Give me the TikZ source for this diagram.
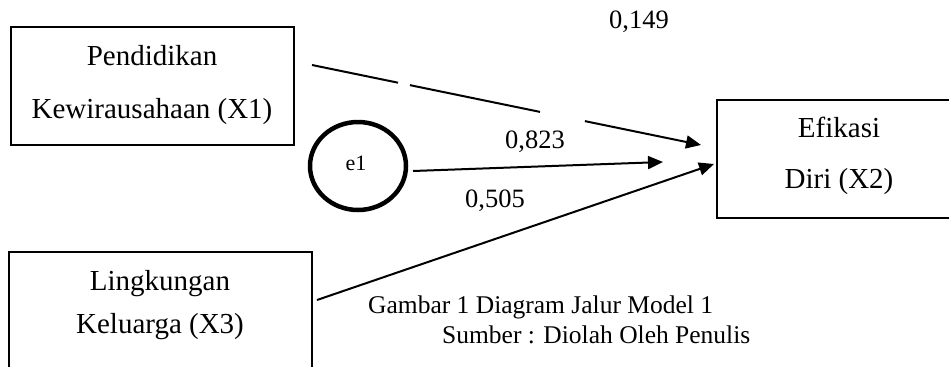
\documentclass[tikz,border=0pt]{standalone}
\usepackage{fontspec}
\setmainfont{Liberation Serif}
\usetikzlibrary{arrows.meta,shapes.geometric}
\begin{document}
\begin{tikzpicture}[x=1pt,y=-1pt,
  boxstyle/.style={draw,line width=1.2pt,inner sep=0pt,outer sep=0pt},
  boxtext/.style={anchor=base,inner sep=0pt,font=\fontsize{29}{33}\selectfont},
  coef/.style={anchor=base,inner sep=0pt,font=\fontsize{26.5}{30}\selectfont},
  captext/.style={anchor=base west,inner sep=0pt,font=\fontsize{25.5}{29}\selectfont},
  patharrow/.style={line width=2pt,-{Triangle[length=15pt,width=13pt]}}]
\useasboundingbox (0,0) rectangle (949,367);
% boxes
\node[boxstyle,minimum width=283pt,minimum height=118pt] (x1) at (152.5,86) {};
\node[inner sep=0pt,outer sep=0pt,minimum width=303pt,minimum height=115pt] (x3) at (160.5,309.5) {};
\draw[line width=1.2pt] (x3.south west) -- (x3.north west) -- (x3.north east) -- (x3.south east);
\node[inner sep=0pt,outer sep=0pt,minimum width=232pt,minimum height=118pt] (x2) at (833,159) {};
\draw[line width=1.2pt] (x2.north east) -- (x2.north west) -- (x2.south west) -- (x2.south east);
% texts
\node[boxtext] (x1a) at (152,65) {Pendidikan};
\node[boxtext] (x1b) at (152,118) {Kewirausahaan (X1)};
\node[boxtext] (x3a) at (160,290) {Lingkungan};
\node[boxtext] (x3b) at (160,333) {Keluarga (X3)};
\node[boxtext] (x2a) at (839,137) {Efikasi};
\node[boxtext] (x2b) at (839,188) {Diri (X2)};
% error term
\node[draw,ellipse,line width=4.5pt,minimum width=96pt,minimum height=88pt,inner sep=0pt] (e1) at (358,166) {};
\node[anchor=base,inner sep=0pt,font=\fontsize{22}{26}\selectfont] (e1t) at (356,170) {e1};
% coefficients
\node[coef] (c149) at (639,28) {0,149};
\node[coef] (c823) at (535,148) {0,823};
\node[coef] (c505) at (495,207) {0,505};
% caption
\node[captext] (cap1) at (368,313) {Gambar 1 Diagram Jalur Model 1};
\node[captext] (cap2) at (442,343) {Sumber : Diolah Oleh Penulis};
% connector ends
\coordinate (s1) at (312,65);
\coordinate (t1) at (701,145);
\coordinate (se) at (413,171);
\coordinate (te) at (663,162);
\coordinate (s3) at (317,300);
\coordinate (t3) at (714,164);
% arrows
\draw[patharrow,dash pattern=on 87.8pt off 12.2pt on 132.7pt off 45.9pt on 300pt] (s1) -- (t1);
\draw[patharrow] (se) -- (te);
\draw[patharrow] (s3) -- (t3);
\end{tikzpicture}
\end{document}
